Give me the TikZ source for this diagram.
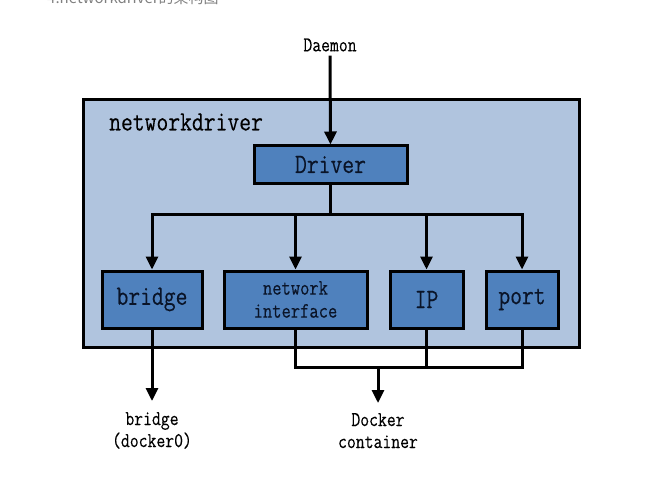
\documentclass[tikz,border=0pt]{standalone}
\usepackage{fontspec}
\usetikzlibrary{arrows.meta}
\newfontfamily\dm[FakeStretch=0.82,FakeBold=0.25]{Latin Modern Mono}
\newfontfamily\cjk{Noto Sans CJK SC}
\definecolor{outerfill}{RGB}{176,196,222}
\definecolor{boxfill}{RGB}{79,129,189}
\definecolor{boxtext}{RGB}{10,20,40}
\tikzset{
  box/.style={draw=black, line width=3pt, fill=boxfill, text=boxtext, inner sep=0pt, align=center},
  bigtxt/.style={font=\dm\fontsize{28}{30}\selectfont},
  lbl/.style={font=\dm\fontsize{21}{22}\selectfont, align=center, inner sep=0pt},
  conn/.style={line width=3pt},
  arr/.style={line width=3pt, -{Triangle[length=13pt,width=12pt]}}
}
\begin{document}
\begin{tikzpicture}[x=1pt,y=-1pt]
\clip (0,0) rectangle (652,481);
\fill[white] (0,0) rectangle (652,481);
% cut-off caption at the top
\node[anchor=base west, inner sep=0pt, text=gray, font=\cjk\fontsize{15}{16}\selectfont] (title) at (47,4) {4.networkdriver的架构图};
% outer frame
\draw[line width=3pt, fill=outerfill] (83,100) rectangle (579,347);
\node[anchor=west, inner sep=0pt, font=\dm\fontsize{28}{30}\selectfont] (nd) at (109,122) {networkdriver};
% nodes
\node[lbl] (daemon) at (330,45) {Daemon};
\node[box, bigtxt, minimum width=153pt, minimum height=37pt] (driver) at (330.5,164.5) {Driver};
\node[box, bigtxt, minimum width=100pt, minimum height=57pt] (bridge) at (152,299.5) {bridge};
\node[box, font=\dm\fontsize{22}{23}\selectfont, minimum width=143pt, minimum height=57pt] (netif) at (295.5,299.5) {network\\interface};
\node[box, bigtxt, minimum width=73pt, minimum height=57pt] (ip) at (426.5,299.5) {IP};
\node[box, bigtxt, minimum width=72pt, minimum height=57pt] (port) at (522,299.5) {port};
\node[lbl, anchor=north] (bridgeout) at (152,412) {bridge\\(docker0)};
\node[lbl, anchor=north] (docker) at (378,413) {Docker\\container};
% connectors
\draw[arr] ([yshift=-4pt]daemon.south) -- (driver.north);
\draw[conn] (driver.south) -- ++(0,30) coordinate (j);
\draw[conn, line cap=rect] (bridge.north |- j) -- (port.north |- j);
\draw[arr] (bridge.north |- j) -- (bridge.north);
\draw[arr] (netif.north |- j) -- (netif.north);
\draw[arr] (ip.north |- j) -- (ip.north);
\draw[arr] (port.north |- j) -- (port.north);
\draw[arr] (bridge.south) -- ([yshift=11pt]bridgeout.north);
\coordinate (k) at (378,367);
\draw[conn, line join=miter] (netif.south) |- (k);
\draw[conn] (ip.south) -- (ip.south |- k);
\draw[conn, line join=miter] (port.south) |- (k);
\draw[arr] (k) -- ([yshift=10pt]docker.north);
\end{tikzpicture}
\end{document}
